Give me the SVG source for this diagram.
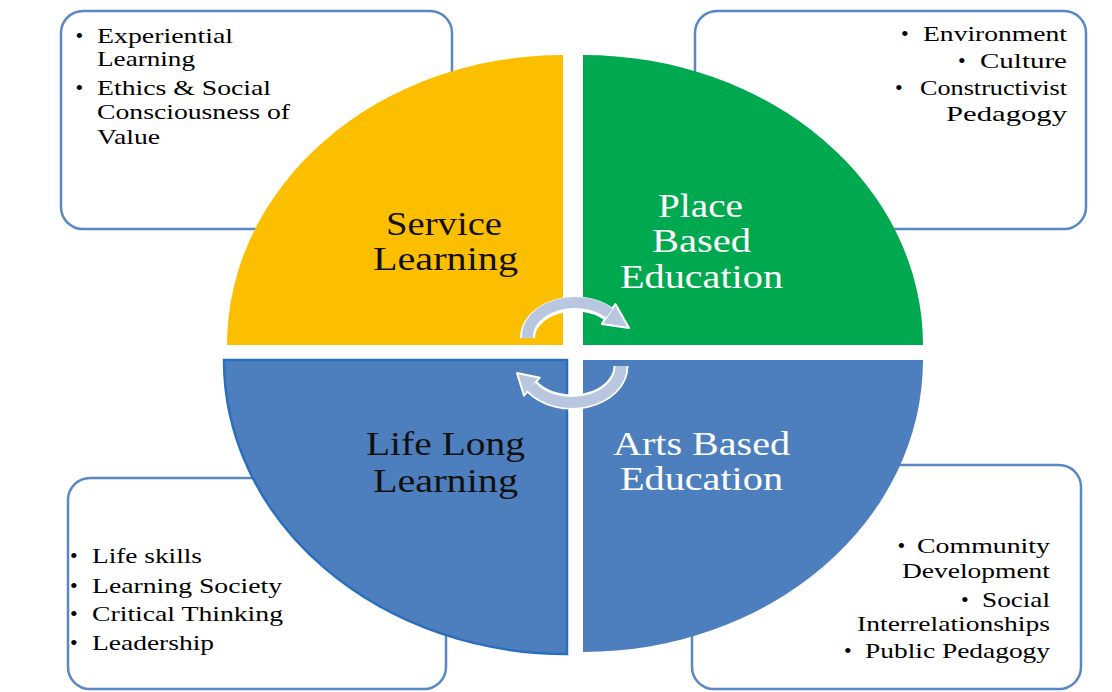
<svg xmlns="http://www.w3.org/2000/svg" width="1112" height="692" viewBox="0 0 1112 692">
<style>
.box{fill:#fff;stroke:#5A88C6;stroke-width:2.5}
.t{font-size:22px;fill:#000}
.lbl{font-size:33px}
.dk{fill:#111}
.wh{fill:#fff}
.arcw{fill:none;stroke:#fff;stroke-width:15}
.arcc{fill:none;stroke:#B9C6DF;stroke-width:11}
.head{fill:#B9C6DF;stroke:#fff;stroke-width:2;stroke-linejoin:round}
</style>
<rect width="1112" height="692" fill="#fff"/>
<g font-family="Liberation Serif, Times New Roman, serif">

<g id="box-service">
<rect class="box" x="61" y="11" width="391" height="218" rx="22"/>
<text class="t" x="75.5" y="43">•</text>
<text class="t" x="97" y="43" textLength="136" lengthAdjust="spacingAndGlyphs">Experiential</text>
<text class="t" x="97" y="66" textLength="98" lengthAdjust="spacingAndGlyphs">Learning</text>
<text class="t" x="75.5" y="95">•</text>
<text class="t" x="97" y="95" textLength="174" lengthAdjust="spacingAndGlyphs">Ethics &amp; Social</text>
<text class="t" x="97" y="119" textLength="193" lengthAdjust="spacingAndGlyphs">Consciousness of</text>
<text class="t" x="97" y="144" textLength="63" lengthAdjust="spacingAndGlyphs">Value</text>
</g>

<g id="box-place">
<rect class="box" x="695" y="11" width="391" height="218" rx="22"/>
<text class="t" x="901" y="41">•</text>
<text class="t" x="923" y="41" textLength="144" lengthAdjust="spacingAndGlyphs">Environment</text>
<text class="t" x="958" y="68">•</text>
<text class="t" x="980" y="68" textLength="87" lengthAdjust="spacingAndGlyphs">Culture</text>
<text class="t" x="895" y="95">•</text>
<text class="t" x="920" y="95" textLength="147" lengthAdjust="spacingAndGlyphs">Constructivist</text>
<text class="t" x="946" y="121" textLength="121" lengthAdjust="spacingAndGlyphs">Pedagogy</text>
</g>

<g id="box-lifelong">
<rect class="box" x="68" y="478" width="378" height="211" rx="22"/>
</g>

<g id="box-arts">
<rect class="box" x="692" y="465" width="389" height="224" rx="22"/>
</g>

<g id="quad-service">
<path d="M563,345 L227,345 A336,290 0 0 1 563,55 Z" fill="#FCBF00"/>
<text class="lbl dk" x="386" y="235" textLength="116" lengthAdjust="spacingAndGlyphs">Service</text>
<text class="lbl dk" x="373" y="270" textLength="145" lengthAdjust="spacingAndGlyphs">Learning</text>
</g>

<g id="quad-place">
<path d="M583,345 L583,55 A340,290 0 0 1 923,345 Z" fill="#00A94F"/>
<text class="lbl wh" x="658" y="217" textLength="85" lengthAdjust="spacingAndGlyphs">Place</text>
<text class="lbl wh" x="652" y="252" textLength="99" lengthAdjust="spacingAndGlyphs">Based</text>
<text class="lbl wh" x="620" y="288" textLength="163" lengthAdjust="spacingAndGlyphs">Education</text>
</g>

<g id="quad-lifelong">
<path d="M567,360 L567,654 A343,294 0 0 1 224,360 Z" fill="#4D7FBE" stroke="#2A6FBF" stroke-width="2.5"/>
<text class="lbl dk" x="366" y="455" textLength="159" lengthAdjust="spacingAndGlyphs">Life Long</text>
<text class="lbl dk" x="373" y="492" textLength="145" lengthAdjust="spacingAndGlyphs">Learning</text>
</g>

<g id="quad-arts">
<path d="M583,360 L923,360 A340,292 0 0 1 583,652 Z" fill="#4D7FBE"/>
<text class="lbl wh" x="613" y="455" textLength="177" lengthAdjust="spacingAndGlyphs">Arts Based</text>
<text class="lbl wh" x="620" y="490" textLength="163" lengthAdjust="spacingAndGlyphs">Education</text>
</g>

<g id="text-lifelong">
<text class="t" x="70" y="563">•</text>
<text class="t" x="92" y="563" textLength="110" lengthAdjust="spacingAndGlyphs">Life skills</text>
<text class="t" x="70" y="593">•</text>
<text class="t" x="92" y="593" textLength="190" lengthAdjust="spacingAndGlyphs">Learning Society</text>
<text class="t" x="70" y="621">•</text>
<text class="t" x="92" y="621" textLength="191" lengthAdjust="spacingAndGlyphs">Critical Thinking</text>
<text class="t" x="70" y="650">•</text>
<text class="t" x="92" y="650" textLength="122" lengthAdjust="spacingAndGlyphs">Leadership</text>
</g>

<g id="text-arts">
<text class="t" x="897.5" y="553">•</text>
<text class="t" x="917" y="553" textLength="133" lengthAdjust="spacingAndGlyphs">Community</text>
<text class="t" x="902" y="578" textLength="148" lengthAdjust="spacingAndGlyphs">Development</text>
<text class="t" x="961" y="607">•</text>
<text class="t" x="982" y="607" textLength="68" lengthAdjust="spacingAndGlyphs">Social</text>
<text class="t" x="857" y="631" textLength="193" lengthAdjust="spacingAndGlyphs">Interrelationships</text>
<text class="t" x="844" y="658">•</text>
<text class="t" x="865" y="658" textLength="185" lengthAdjust="spacingAndGlyphs">Public Pedagogy</text>
</g>

</g>

<g id="connectors">
<path class="arcw" d="M527.5,338 A47.5,34 0 0 1 608.6,314"/>
<polygon class="head" points="615.4,304.1 629,328 601.8,323.9"/>
<path class="arcc" d="M527.5,338 A47.5,34 0 0 1 609.5,313.2"/>
<path class="arcw" d="M621,366 A49,36 0 0 1 531.9,386.7"/>
<polygon class="head" points="539.8,377.7 517,373 524,395.7"/>
<path class="arcc" d="M621,366 A49,36 0 0 1 531,386.2"/>
</g>
</svg>
